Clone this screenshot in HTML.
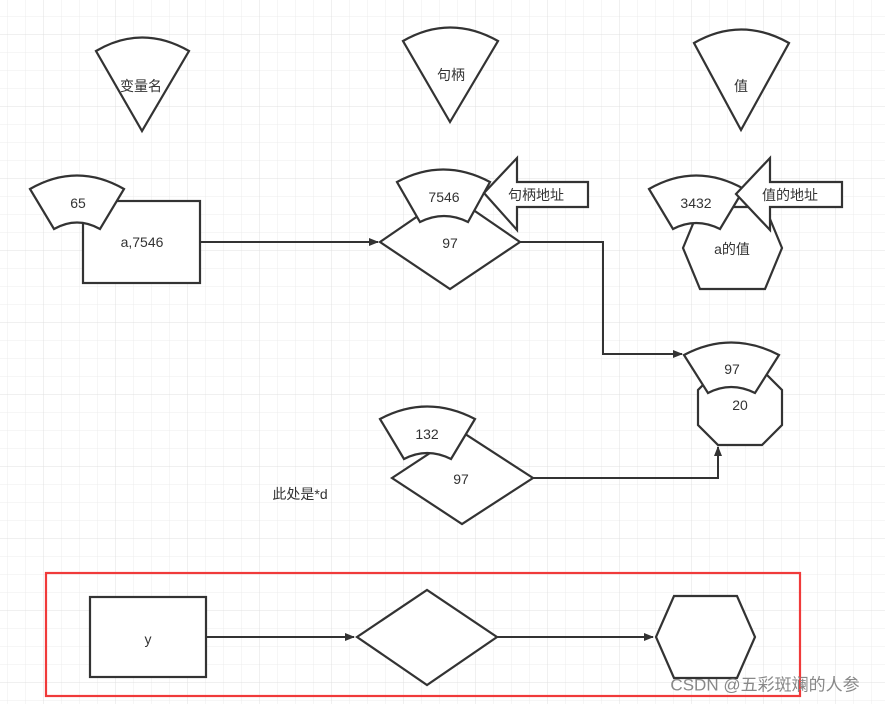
<!DOCTYPE html>
<html><head><meta charset="utf-8">
<style>
html,body{margin:0;padding:0;background:#fff;}
svg{display:block;}
text{font-family:"Liberation Sans","Noto Sans CJK SC",sans-serif;font-size:14px;fill:#333;text-anchor:middle;dominant-baseline:central;}
</style></head><body>
<svg width="885" height="704" viewBox="0 0 885 704" xmlns="http://www.w3.org/2000/svg">
<defs>
<pattern id="g" x="7" y="16" width="18" height="18" patternUnits="userSpaceOnUse">
<path d="M0 0H18M0 0V18" stroke="#ececec" stroke-width="1" fill="none"/>
</pattern>
<pattern id="G" x="43" y="34" width="72" height="72" patternUnits="userSpaceOnUse">
<path d="M0 0H72M0 0V72" stroke="#e0e0e0" stroke-width="1" fill="none"/>
</pattern>
<marker id="ar" markerWidth="10" markerHeight="10" refX="9" refY="5" orient="auto" markerUnits="userSpaceOnUse">
<path d="M0 1L10 5L0 9Z" fill="#333"/>
</marker>
</defs>
<rect width="885" height="704" fill="url(#g)"/>
<rect width="885" height="704" fill="url(#G)"/>
<g fill="#fff" stroke="#333" stroke-width="2.2" stroke-linejoin="miter">
<!-- top fans -->
<path d="M96 51 Q142 24 189 51 L142 131 Z"/>
<path d="M403 41 Q450 14 498 41 L450 122 Z"/>
<path d="M694 43 Q741 16 789 43 L741 130 Z"/>
<!-- row 1 -->
<rect x="83" y="201" width="117" height="82"/>
<path d="M30 189 Q77 162 124 189 L100 229 Q77 216 54 229 Z"/>
<path d="M380 242 L450 194 L520 242 L450 289 Z"/>
<path d="M397 182 Q443 157 490 182 L468 222 Q444 210 420 222 Z"/>
<path d="M484 193 L517 158 L517 182 L588 182 L588 207 L517 207 L517 230 Z"/>
<path d="M683 248 L700 207 L765 207 L782 248 L765 289 L700 289 Z"/>
<path d="M649 189 Q696 162 744 189 L720 229 Q696 217 673 229 Z"/>
<path d="M736 194 L770 158 L770 182 L842 182 L842 207 L770 207 L770 230 Z"/>
<!-- octagon -->
<path d="M718 370 L762 370 L782 390 L782 425 L762 445 L718 445 L698 425 L698 390 Z"/>
<path d="M684 355 Q731 330 779 355 L755 393 Q731 381 708 393 Z"/>
<!-- diamond 2 -->
<path d="M392 478 L462 432 L533 478 L462 524 Z"/>
<path d="M380 419 Q427 394 475 419 L451 459 Q427 447 404 459 Z"/>
<!-- bottom -->
<rect x="90" y="597" width="116" height="80"/>
<path d="M357 637 L427 590 L497 637 L427 685 Z"/>
<path d="M656 637 L674 596 L737 596 L755 637 L737 678 L674 678 Z"/>
</g>
<g fill="none" stroke="#333" stroke-width="2">
<path d="M200 242 L378 242" marker-end="url(#ar)"/>
<path d="M520 242 L603 242 L603 354 L682 354" marker-end="url(#ar)"/>
<path d="M533 478 L718 478 L718 447" marker-end="url(#ar)"/>
<path d="M206 637 L354 637" marker-end="url(#ar)"/>
<path d="M497 637 L653 637" marker-end="url(#ar)"/>
</g>
<rect x="46" y="573" width="754" height="123" fill="none" stroke="#f03a3a" stroke-width="2.2"/>
<text x="141" y="86">变量名</text>
<text x="451" y="75">句柄</text>
<text x="741" y="86">值</text>
<text x="78" y="203">65</text>
<text x="142" y="242">a,7546</text>
<text x="444" y="197">7546</text>
<text x="536" y="195">句柄地址</text>
<text x="450" y="243">97</text>
<text x="696" y="203">3432</text>
<text x="790" y="195">值的地址</text>
<text x="732" y="249">a的值</text>
<text x="732" y="369">97</text>
<text x="740" y="405">20</text>
<text x="427" y="434">132</text>
<text x="461" y="479">97</text>
<text x="300" y="494">此处是*d</text>
<text x="148" y="639">y</text>
<text x="765" y="685" style="font-size:17px;fill:#888;">CSDN @五彩斑斓的人参</text>
</svg>
</body></html>
